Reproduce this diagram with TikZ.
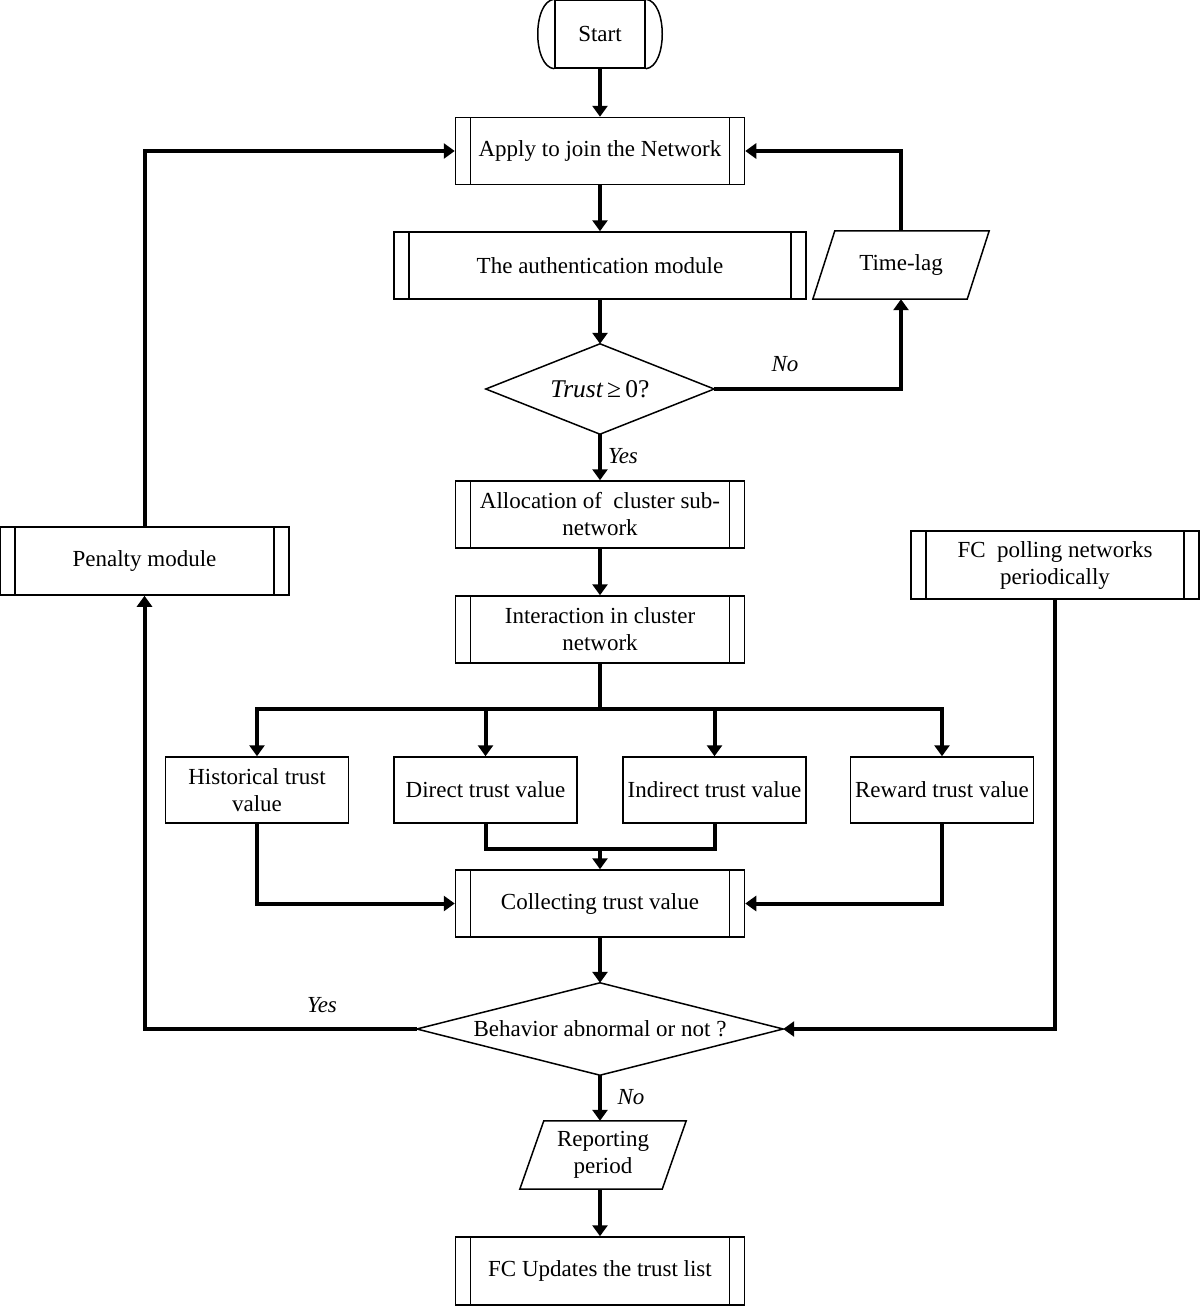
\documentclass[tikz,border=0pt]{standalone}
\usepackage{fontspec}
\setmainfont{Liberation Serif}
\usetikzlibrary{arrows.meta}
\begin{document}
\begin{tikzpicture}[x=1pt,y=-1pt,
  font=\fontsize{23}{27}\selectfont,
  outline/.style={line width=1.5pt},
  box/.style={draw,outline,minimum width=#1,minimum height=67pt,inner sep=0pt,align=center},
  proc/.style={box=#1,path picture={
     \draw[outline] ([xshift=15pt]path picture bounding box.north west) -- ([xshift=15pt]path picture bounding box.south west);
     \draw[outline] ([xshift=-15pt]path picture bounding box.north east) -- ([xshift=-15pt]path picture bounding box.south east);}},
  ghost/.style={minimum width=#1,minimum height=68pt,inner sep=0pt,align=center},
  conn/.style={line width=4pt,-{Triangle[width=15pt,length=11pt]}},
  plain/.style={line width=4pt,line cap=rect},
  lab/.style={font=\fontsize{23}{27}\selectfont\itshape}]
\useasboundingbox (0,0) rectangle (1200,1307);

% Start
\node[draw,outline,minimum width=90pt,minimum height=68pt,inner sep=0pt] (start) at (600,34) {Start};
\draw[outline] (start.north west) .. controls +(-22,2) and +(-22,-2) .. (start.south west);
\draw[outline] (start.north east) .. controls +(22,2) and +(22,-2) .. (start.south east);

\node[proc=289pt] (apply) at (600,151) {Apply to join the Network};
\node[proc=412pt] (auth) at (600,265.5) {The authentication module};

\node[ghost=154pt] (tl) at (901,265) {Time-lag};
\draw[outline] ([xshift=11pt]tl.north west) -- ([xshift=11pt]tl.north east) -- ([xshift=-11pt]tl.south east) -- ([xshift=-11pt]tl.south west) -- cycle;

\node[minimum width=228pt,minimum height=90pt,inner sep=0pt,font=\fontsize{25.5}{30}\selectfont] (trust) at (600,389) {{\itshape Trust}\,≥\,0?};
\draw[outline] (trust.north) -- (trust.east) -- (trust.south) -- (trust.west) -- cycle;

\node[proc=289pt] (alloc) at (600,514.5) {Allocation of\ \ cluster sub-\\network};
\node[proc=289pt] (inter) at (600,629.5) {Interaction in cluster\\network};

\node[proc=289pt,minimum height=68pt] (pen) at (144.5,561) {Penalty module};
\node[proc=288pt,minimum height=68pt] (fcp) at (1055,565) {FC\ \ polling networks\\periodically};

\node[box=183pt,minimum height=66pt] (hist) at (257,790) {Historical trust\\value};
\node[box=183pt,minimum height=66pt] (direct) at (485.5,790) {Direct trust value};
\node[box=183pt,minimum height=66pt] (indir) at (714.5,790) {Indirect trust value};
\node[box=183pt,minimum height=66pt] (rew) at (942,790) {Reward trust value};

\node[proc=289pt] (coll) at (600,903.5) {Collecting trust value};

\node[minimum width=366pt,minimum height=92pt,inner sep=0pt] (beh) at (600,1029) {Behavior abnormal or not ?};
\draw[outline] (beh.north) -- (beh.east) -- (beh.south) -- (beh.west) -- cycle;

\node[ghost=142pt] (rep) at (603,1155) {Reporting\\period};
\draw[outline] ([xshift=12pt]rep.north west) -- ([xshift=12pt]rep.north east) -- ([xshift=-12pt]rep.south east) -- ([xshift=-12pt]rep.south west) -- cycle;

\node[proc=289pt,minimum height=68pt] (fcu) at (600,1271) {FC Updates the trust list};

% connectors
\draw[conn] (start.south) -- (apply.north);
\draw[conn] (apply.south) -- (auth.north);
\draw[conn] (auth.south) -- (trust.north);
\draw[conn] (trust.east) -| (tl.south);
\draw[conn] (tl.north) |- (apply.east);
\draw[conn] (trust.south) -- (alloc.north);
\draw[conn] (alloc.south) -- (inter.north);

\coordinate (br) at (600,709);
\draw[line width=4pt] (inter.south) -- (br);
\draw[plain] (hist.north |- br) -- (rew.north |- br);
\draw[conn] (hist.north |- br) -- (hist.north);
\draw[conn] (direct.north |- br) -- (direct.north);
\draw[conn] (indir.north |- br) -- (indir.north);
\draw[conn] (rew.north |- br) -- (rew.north);

\coordinate (jn) at (600,849);
\draw[line width=4pt] (direct.south) |- (jn) -| (indir.south);
\draw[conn] (jn) -- (coll.north);
\draw[conn] (hist.south) |- (coll.west);
\draw[conn] (rew.south) |- (coll.east);
\draw[conn] (coll.south) -- (beh.north);
\draw[conn] (beh.west) -| (pen.south);
\draw[conn] (pen.north) |- (apply.west);
\draw[conn] (fcp.south) |- (beh.east);
\draw[conn] (beh.south) -- (beh.south |- rep.north);
\draw[conn] (fcu.north |- rep.south) -- (fcu.north);

% labels
\node[lab] (lno1) at (785,364) {No};
\node[lab] (lyes1) at (623,456) {Yes};
\node[lab] (lyes2) at (322,1005) {Yes};
\node[lab] (lno2) at (631,1097) {No};
\end{tikzpicture}
\end{document}
